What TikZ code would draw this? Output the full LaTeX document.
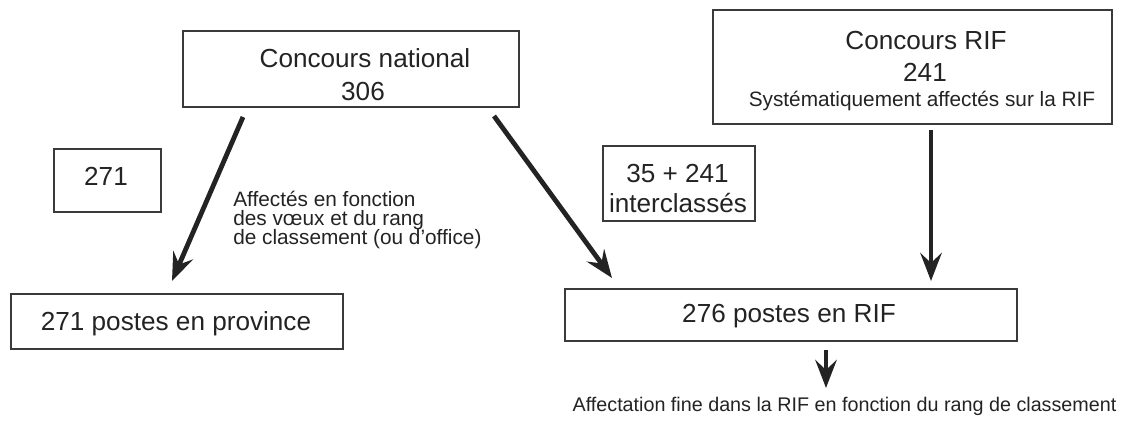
\documentclass[tikz,border=0pt]{standalone}
\usepackage{fontspec}
\setmainfont{Liberation Sans}
\usetikzlibrary{arrows.meta}
\definecolor{ink}{HTML}{232323}
\definecolor{frame}{HTML}{3A3A3A}
\tikzset{
  boxnode/.style={draw=frame, line width=0.9pt, rectangle, inner sep=0pt},
  bigtxt/.style={font=\fontsize{19.6pt}{23pt}\selectfont, text=ink, inner sep=0pt, anchor=base},
  smalltxt/.style={font=\fontsize{15.6pt}{18pt}\selectfont, text=ink, inner sep=0pt},
  bottxt/.style={font=\fontsize{14.8pt}{17pt}\selectfont, text=ink, inner sep=0pt, anchor=base},
  arr/.style={draw=ink, line width=3.6pt, -{Stealth[length=21pt, width=16pt, inset=7.5pt]}},
}
\begin{document}
\begin{tikzpicture}[x=0.75pt, y=-0.75pt]
\useasboundingbox (0,0) rectangle (1125,421);
% boxes
\node[boxnode, minimum width=252pt, minimum height=57pt] (cn) at (351,69) {};
\node[boxnode, minimum width=299.25pt, minimum height=85.5pt] (cr) at (912.5,67) {};
\node[boxnode, minimum width=80.25pt, minimum height=47.25pt] (b271) at (107.5,180.5) {};
\node[boxnode, minimum width=249pt, minimum height=41.25pt] (prov) at (177,321.5) {};
\node[boxnode, minimum width=114pt, minimum height=56.25pt] (inter) at (679,183.5) {};
\node[boxnode, minimum width=339pt, minimum height=39pt] (rif) at (791,315) {};
% texts
\node[bigtxt] (t1a) at (365,67) {Concours national};
\node[bigtxt] (t1b) at (363,100) {306};
\node[bigtxt] (t2a) at (926,50) {Concours RIF};
\node[bigtxt] (t2b) at (925,81) {241};
\node[smalltxt, anchor=base] (t2c) at (922,106) {Systématiquement affectés sur la RIF};
\node[bigtxt] (t3) at (106,185) {271};
\node[bigtxt] (t4) at (176,330) {271 postes en province};
\node[bigtxt] (t5a) at (677.5,182) {35 + 241};
\node[bigtxt] (t5b) at (678,212) {interclassés};
\node[bigtxt] (t6) at (789,322) {276 postes en RIF};
\node[smalltxt, anchor=base west] (t7a) at (233,206) {Affectés en fonction};
\node[smalltxt, anchor=base west] (t7b) at (233,225) {des vœux et du rang};
\node[smalltxt, anchor=base west] (t7c) at (233,244) {de classement (ou d’office)};
\node[bottxt] (t8) at (844.5,411) {Affectation fine dans la RIF en fonction du rang de classement};
% arrow ends
\coordinate (l1) at (243,117);
\coordinate (l2) at (172,281);
\coordinate (m1) at (494,116);
\coordinate (m2) at (612,278);
\coordinate (v1) at (931,130);
\coordinate (v2) at (931,281);
\coordinate (b1) at (826,350);
\coordinate (b2) at (826,388);
\draw[arr] (l1) -- (l2);
\draw[arr] (m1) -- (m2);
\draw[arr] (v1) -- (v2);
\draw[arr] (b1) -- (b2);
\end{tikzpicture}
\end{document}
